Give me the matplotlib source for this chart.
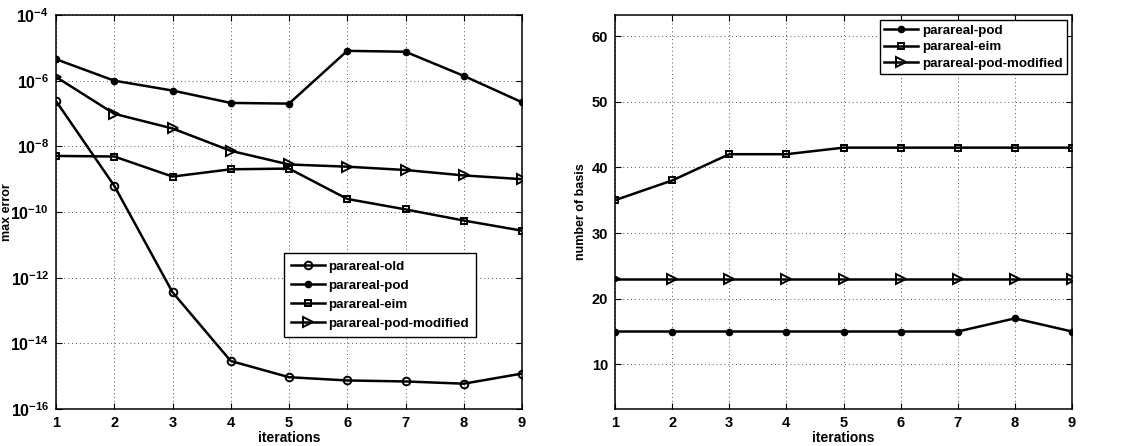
import numpy as np
import matplotlib
matplotlib.use("Agg")
import matplotlib.pyplot as plt
from matplotlib.ticker import FixedLocator, FuncFormatter

plt.rcParams['font.family'] = ['Liberation Sans', 'DejaVu Sans']
plt.rcParams['font.weight'] = 'bold'
plt.rcParams['mathtext.fontset'] = 'custom'
plt.rcParams['mathtext.rm'] = 'Liberation Sans:bold'
plt.rcParams['mathtext.bf'] = 'Liberation Sans:bold'
plt.rcParams['mathtext.default'] = 'bf'

iterations = [1, 2, 3, 4, 5, 6, 7, 8, 9]

# max error
err_old = [2.4e-7, 6.3e-10, 3.6e-13, 2.9e-15, 9.3e-16, 7.4e-16, 6.9e-16, 5.9e-16, 1.2e-15]
err_pod = [4.5e-6, 1.0e-6, 5.0e-7, 2.1e-7, 2.0e-7, 8.1e-6, 7.6e-6, 1.4e-6, 2.2e-7]
err_eim = [5.1e-9, 4.9e-9, 1.2e-9, 2.0e-9, 2.1e-9, 2.5e-10, 1.2e-10, 5.5e-11, 2.7e-11]
err_mod = [1.3e-6, 9.8e-8, 3.5e-8, 7.3e-9, 2.8e-9, 2.4e-9, 1.9e-9, 1.3e-9, 1.0e-9]

# number of basis
nb_pod = [15, 15, 15, 15, 15, 15, 15, 17, 15]
nb_eim = [35, 38, 42, 42, 43, 43, 43, 43, 43]
nb_mod = [23, 23, 23, 23, 23, 23, 23, 23, 23]

fig = plt.figure(figsize=(11.31, 4.46), dpi=100)
ax1 = fig.add_axes([56 / 1131, 1 - 409 / 446, 466 / 1131, 394 / 446])
ax2 = fig.add_axes([615 / 1131, 1 - 409 / 446, 457 / 1131, 394 / 446])

lw = 1.8
common = dict(color='black', lw=lw, mfc='none', mec='black', mew=1.4)
dot = dict(color='black', lw=lw, mfc='black', mec='black', marker='o', ms=4.5)

ax1.plot(iterations, err_old, marker='o', ms=5.5, label='parareal-old', **common)
ax1.plot(iterations, err_pod, label='parareal-pod', **dot)
ax1.plot(iterations, err_eim, marker='s', ms=4.8, label='parareal-eim', **common)
ax1.plot(iterations, err_mod, marker='>', ms=6.5, label='parareal-pod-modified', **common)
ax1.set_yscale('log')
ax1.set_ylim(1e-16, 1e-4)
ax1.yaxis.set_major_locator(FixedLocator([10.0 ** e for e in range(-16, -3, 2)]))
ax1.yaxis.set_minor_locator(FixedLocator([]))
ax1.yaxis.set_major_formatter(FuncFormatter(lambda v, p: r'$10^{%d}$' % round(np.log10(v))))
ax1.tick_params(axis='y', labelsize=11.5)
ax1.set_ylabel('max error', fontsize=9, fontweight='bold')
ax1.yaxis.set_label_coords(-0.093, 0.5)
ax1.legend(loc='upper left', bbox_to_anchor=(0.489, 0.396), fontsize=9.6,
           fancybox=False, edgecolor='black', framealpha=1, handlelength=2.5,
           borderpad=0.55, labelspacing=0.5, handletextpad=0.3, borderaxespad=0)

ax2.plot(iterations, nb_pod, label='parareal-pod', **dot)
ax2.plot(iterations, nb_eim, marker='s', ms=4.8, label='parareal-eim', **common)
ax2.plot(iterations, nb_mod, marker='>', ms=6.5, label='parareal-pod-modified', **common)
ax2.set_ylim(3.2, 63.2)
ax2.set_yticks([10, 20, 30, 40, 50, 60])
ax2.set_ylabel('number of basis', fontsize=9, fontweight='bold')
ax2.yaxis.set_label_coords(-0.062, 0.5)
ax2.legend(loc='upper right', bbox_to_anchor=(0.989, 0.987), fontsize=9.6,
           fancybox=False, edgecolor='black', framealpha=1, handlelength=2.5,
           borderpad=0.35, labelspacing=0.3, handletextpad=0.3, borderaxespad=0)

for ax in (ax1, ax2):
    ax.set_xlim(1, 9)
    ax.set_xticks(iterations)
    ax.set_xlabel('iterations', fontsize=10, fontweight='bold', labelpad=1)
    ax.grid(True, which='major', ls=(0, (1, 3)), color='#555555', lw=0.7)
    ax.tick_params(direction='in', length=4, width=0.8, top=True, right=True, pad=5)
    ax.tick_params(axis='x', labelsize=10.5)
    for s in ax.spines.values():
        s.set_linewidth(1.1)
ax2.tick_params(axis='y', labelsize=10.5)

fig.savefig('out.png', dpi=100)
